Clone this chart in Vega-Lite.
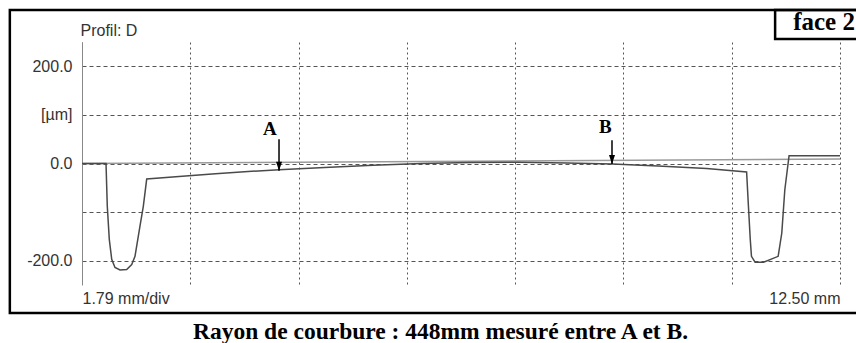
{
  "$schema": "https://vega.github.io/schema/vega-lite/v6.json",
  "width": 758,
  "height": 243,
  "autosize": {"type": "none"},
  "padding": {"left": 82, "top": 42, "right": 16, "bottom": 58},
  "background": "white",
  "config": {"view": {"stroke": null}, "font": "Liberation Sans"},
  "data": {"values": [{}]},
  "datasets": {
    "profile": [
      {"series": "reference", "i": 0, "x": 0, "y": 0},
      {"series": "reference", "i": 1, "x": 12.5, "y": 9.3},
      {"series": "profile", "i": 0, "x": 0, "y": 0},
      {"series": "profile", "i": 1, "x": 0.396, "y": 0},
      {"series": "profile", "i": 2, "x": 0.417, "y": -88},
      {"series": "profile", "i": 3, "x": 0.45, "y": -156},
      {"series": "profile", "i": 4, "x": 0.49, "y": -197},
      {"series": "profile", "i": 5, "x": 0.544, "y": -214},
      {"series": "profile", "i": 6, "x": 0.627, "y": -219},
      {"series": "profile", "i": 7, "x": 0.737, "y": -218},
      {"series": "profile", "i": 8, "x": 0.82, "y": -208},
      {"series": "profile", "i": 9, "x": 0.874, "y": -191},
      {"series": "profile", "i": 10, "x": 0.956, "y": -129},
      {"series": "profile", "i": 11, "x": 1.011, "y": -88},
      {"series": "profile", "i": 12, "x": 1.067, "y": -32},
      {"series": "profile", "i": 13, "x": 1.6, "y": -27},
      {"series": "profile", "i": 14, "x": 2.2, "y": -21},
      {"series": "profile", "i": 15, "x": 2.8, "y": -16},
      {"series": "profile", "i": 16, "x": 3.25, "y": -13},
      {"series": "profile", "i": 17, "x": 4.0, "y": -8},
      {"series": "profile", "i": 18, "x": 4.8, "y": -3.5},
      {"series": "profile", "i": 19, "x": 5.6, "y": 0},
      {"series": "profile", "i": 20, "x": 6.4, "y": 2},
      {"series": "profile", "i": 21, "x": 7.2, "y": 2.5},
      {"series": "profile", "i": 22, "x": 8.0, "y": 1},
      {"series": "profile", "i": 23, "x": 8.75, "y": -1},
      {"series": "profile", "i": 24, "x": 9.5, "y": -5},
      {"series": "profile", "i": 25, "x": 10.3, "y": -10.5},
      {"series": "profile", "i": 26, "x": 10.96, "y": -17.5},
      {"series": "profile", "i": 27, "x": 10.99, "y": -88},
      {"series": "profile", "i": 28, "x": 11.02, "y": -156},
      {"series": "profile", "i": 29, "x": 11.04, "y": -191},
      {"series": "profile", "i": 30, "x": 11.1, "y": -203},
      {"series": "profile", "i": 31, "x": 11.24, "y": -203},
      {"series": "profile", "i": 32, "x": 11.48, "y": -191},
      {"series": "profile", "i": 33, "x": 11.54, "y": -143},
      {"series": "profile", "i": 34, "x": 11.59, "y": -54},
      {"series": "profile", "i": 35, "x": 11.66, "y": 16},
      {"series": "profile", "i": 36, "x": 12.5, "y": 16}
    ],
    "arrows": [
      {"label": "A", "x": 3.249, "y_from": 50, "y_to": -15, "lx": 3.1, "ly": 71},
      {"label": "B", "x": 8.74, "y_from": 48, "y_to": -1, "lx": 8.63, "ly": 75}
    ]
  },
  "layer": [
    {
      "data": {"name": "profile"},
      "mark": {"type": "line", "strokeWidth": 1.5},
      "encoding": {
        "x": {
          "field": "x", "type": "quantitative",
          "scale": {"domain": [0, 12.5], "nice": false, "zero": false},
          "axis": {
            "values": [0, 1.7857, 3.5714, 5.3571, 7.1429, 8.9286, 10.7143, 12.5],
            "grid": true, "gridDash": [2, 3], "gridColor": "#555", "gridWidth": 1,
            "domain": false, "ticks": false, "tickSize": 0,
            "labelFlush": true, "labelOverlap": false,
            "labelExpr": "datum.value == 0 ? '1.79 mm/div' : (datum.value == 12.5 ? '12.50 mm' : '')",
            "labelFont": "Liberation Sans", "labelFontSize": 16, "labelColor": "#333", "labelPadding": 5,
            "title": "Rayon de courbure : 448mm mesuré entre A et B.",
            "titleFont": "Liberation Serif", "titleFontSize": 23.5, "titleFontWeight": "bold", "titleColor": "black",
            "titleX": 358, "titleY": 53, "titleBaseline": "alphabetic", "titleAlign": "center"
          }
        },
        "y": {
          "field": "y", "type": "quantitative",
          "scale": {"domain": [-250, 250], "nice": false, "zero": false},
          "axis": {
            "values": [-200, -100, 0, 100, 200],
            "grid": true, "gridDash": [4, 3], "gridColor": "#555", "gridWidth": 1,
            "domain": true, "domainColor": "#888", "domainWidth": 1,
            "ticks": false, "tickSize": 0, "labelPadding": 10, "labelOverlap": false,
            "labelExpr": "datum.value == 200 ? '200.0' : datum.value == 100 ? '[µm]' : datum.value == 0 ? '0.0' : datum.value == -200 ? '-200.0' : ''",
            "labelFont": "Liberation Sans", "labelFontSize": 16, "labelColor": "#333",
            "title": "Profil: D", "titleAngle": 0, "titleAlign": "left", "titleBaseline": "alphabetic",
            "titleX": -2, "titleY": -7, "titleFont": "Liberation Sans", "titleFontSize": 16,
            "titleFontWeight": "normal", "titleColor": "#333"
          }
        },
        "color": {
          "field": "series", "type": "nominal",
          "scale": {"domain": ["reference", "profile"], "range": ["#9a9a9a", "#4a4a4a"]},
          "legend": null
        },
        "order": {"field": "i", "type": "quantitative"}
      }
    },
    {
      "data": {"name": "arrows"},
      "mark": {"type": "rule", "color": "black", "strokeWidth": 1.5},
      "encoding": {
        "x": {"field": "x", "type": "quantitative", "scale": {"domain": [0, 12.5]}},
        "y": {"field": "y_from", "type": "quantitative", "scale": {"domain": [-250, 250]}},
        "y2": {"field": "y_to"}
      }
    },
    {
      "data": {"name": "arrows"},
      "mark": {"type": "point", "filled": true, "color": "black", "opacity": 1, "shape": "M-1,-3L1,-3L0,0Z", "size": 36},
      "encoding": {
        "x": {"field": "x", "type": "quantitative", "scale": {"domain": [0, 12.5]}},
        "y": {"field": "y_to", "type": "quantitative", "scale": {"domain": [-250, 250]}}
      }
    },
    {
      "data": {"name": "arrows"},
      "mark": {"type": "text", "font": "Liberation Serif", "fontWeight": "bold", "fontSize": 19, "color": "black", "baseline": "middle", "align": "center"},
      "encoding": {
        "x": {"field": "lx", "type": "quantitative", "scale": {"domain": [0, 12.5]}},
        "y": {"field": "ly", "type": "quantitative", "scale": {"domain": [-250, 250]}},
        "text": {"field": "label"}
      }
    },
    {
      "mark": {"type": "rect", "fill": null, "filled": false, "stroke": "black", "strokeWidth": 2.5},
      "encoding": {
        "x": {"datum": -1.19, "type": "quantitative", "scale": {"domain": [0, 12.5]}},
        "x2": {"datum": 12.8},
        "y": {"datum": 315.9, "type": "quantitative", "scale": {"domain": [-250, 250]}},
        "y2": {"datum": -307.6}
      }
    },
    {
      "mark": {"type": "rect", "fill": null, "filled": false, "stroke": "black", "strokeWidth": 2.5},
      "encoding": {
        "x": {"datum": 11.43, "type": "quantitative", "scale": {"domain": [0, 12.5]}},
        "x2": {"datum": 12.8},
        "y": {"datum": 256.2, "type": "quantitative", "scale": {"domain": [-250, 250]}},
        "y2": {"datum": 315.9}
      }
    },
    {
      "mark": {"type": "text", "text": "face 2", "font": "Liberation Serif", "fontWeight": "bold", "fontSize": 25, "color": "black", "align": "right", "baseline": "alphabetic"},
      "encoding": {
        "x": {"datum": 12.747, "type": "quantitative", "scale": {"domain": [0, 12.5]}},
        "y": {"datum": 274.7, "type": "quantitative", "scale": {"domain": [-250, 250]}}
      }
    }
  ]
}
